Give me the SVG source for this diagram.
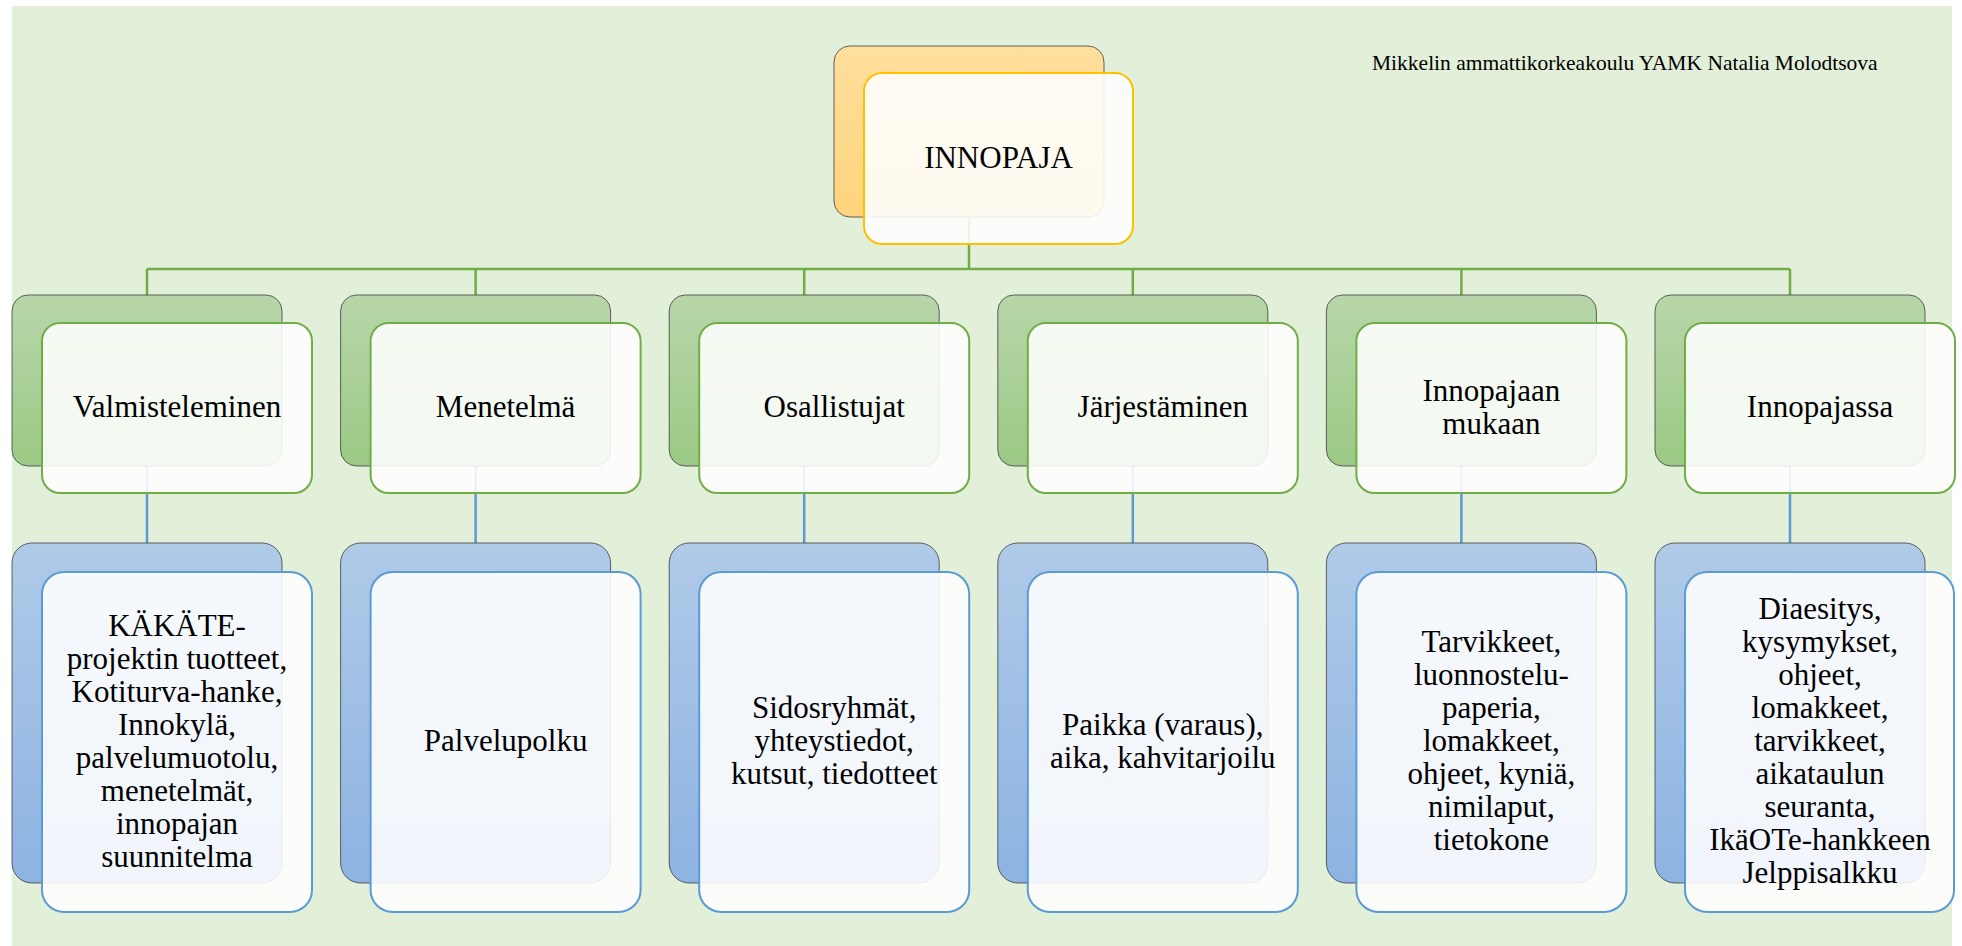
<svg xmlns="http://www.w3.org/2000/svg" width="1962" height="946" viewBox="0 0 1962 946" font-family="'Liberation Serif', 'DejaVu Serif', serif">
  <defs>
    <linearGradient id="gOrange" x1="0" y1="0" x2="0" y2="1">
      <stop offset="0" stop-color="#FFDF9E"/>
      <stop offset="1" stop-color="#FFD47C"/>
    </linearGradient>
    <linearGradient id="gGreen" x1="0" y1="0" x2="0" y2="1">
      <stop offset="0" stop-color="#B7D6A9"/>
      <stop offset="1" stop-color="#9CC985"/>
    </linearGradient>
    <linearGradient id="gBlue" x1="0" y1="0" x2="0" y2="1">
      <stop offset="0" stop-color="#B0CAE8"/>
      <stop offset="1" stop-color="#8DB3E2"/>
    </linearGradient>
  </defs>
  <style>
    .bg { fill: #E2EFD9; }
    .back { stroke: #3f3f3f; stroke-opacity: 0.8; stroke-width: 1; }
    .front { fill: #FFFFFF; fill-opacity: 0.88; stroke-width: 2; }
    .fo { stroke: #FFC000; }
    .fg { stroke: #70AD47; }
    .fb { stroke: #5B9BD5; }
    .lg { stroke: #70AD47; stroke-width: 2.5; fill: none; }
    .lb { stroke: #5B9BD5; stroke-width: 2.5; fill: none; }
    .t { font-size: 31px; text-anchor: middle; fill: #000; }
    .credit { font-size: 21.5px; fill: #000; }
  </style>

  <rect class="bg" x="12" y="6" width="1940" height="940"/>

  <text class="credit" x="1372" y="70" font-family="Liberation Serif">Mikkelin ammattikorkeakoulu YAMK Natalia Molodtsova</text>

  <!-- connectors -->
  <g id="connectors">
    <line class="lg" x1="969" y1="217" x2="969" y2="269"/>
    <line class="lg" x1="147" y1="269" x2="1790" y2="269"/>
    <line class="lg" x1="147" y1="269" x2="147" y2="295"/>
    <line class="lg" x1="475.6" y1="269" x2="475.6" y2="295"/>
    <line class="lg" x1="804.2" y1="269" x2="804.2" y2="295"/>
    <line class="lg" x1="1132.8" y1="269" x2="1132.8" y2="295"/>
    <line class="lg" x1="1461.4" y1="269" x2="1461.4" y2="295"/>
    <line class="lg" x1="1790" y1="269" x2="1790" y2="295"/>
    <line class="lb" x1="147" y1="466" x2="147" y2="543"/>
    <line class="lb" x1="475.6" y1="466" x2="475.6" y2="543"/>
    <line class="lb" x1="804.2" y1="466" x2="804.2" y2="543"/>
    <line class="lb" x1="1132.8" y1="466" x2="1132.8" y2="543"/>
    <line class="lb" x1="1461.4" y1="466" x2="1461.4" y2="543"/>
    <line class="lb" x1="1790" y1="466" x2="1790" y2="543"/>
  </g>

  <g font-family="Liberation Serif">
  <!-- root -->
  <g id="innopaja">
    <rect class="back" x="834" y="46" width="270" height="171" rx="16" fill="url(#gOrange)"/>
    <rect class="front fo" x="864" y="73" width="269" height="171" rx="18"/>
    <text class="t" x="998.5" y="168">INNOPAJA</text>
  </g>

  <!-- second level -->
  <g id="valmisteleminen">
    <rect class="back" x="12" y="295" width="270" height="171" rx="16" fill="url(#gGreen)"/>
    <rect class="front fg" x="42" y="323" width="270" height="170" rx="18"/>
    <text class="t" x="177" y="417">Valmisteleminen</text>
  </g>
  <g id="menetelma">
    <rect class="back" x="340.6" y="295" width="270" height="171" rx="16" fill="url(#gGreen)"/>
    <rect class="front fg" x="370.6" y="323" width="270" height="170" rx="18"/>
    <text class="t" x="505.6" y="417">Menetelmä</text>
  </g>
  <g id="osallistujat">
    <rect class="back" x="669.2" y="295" width="270" height="171" rx="16" fill="url(#gGreen)"/>
    <rect class="front fg" x="699.2" y="323" width="270" height="170" rx="18"/>
    <text class="t" x="834.2" y="417">Osallistujat</text>
  </g>
  <g id="jarjestaminen">
    <rect class="back" x="997.8" y="295" width="270" height="171" rx="16" fill="url(#gGreen)"/>
    <rect class="front fg" x="1027.8" y="323" width="270" height="170" rx="18"/>
    <text class="t" x="1162.8" y="417">Järjestäminen</text>
  </g>
  <g id="innopajaan-mukaan">
    <rect class="back" x="1326.4" y="295" width="270" height="171" rx="16" fill="url(#gGreen)"/>
    <rect class="front fg" x="1356.4" y="323" width="270" height="170" rx="18"/>
    <text class="t" x="1491.4" y="401">Innopajaan</text>
    <text class="t" x="1491.4" y="434">mukaan</text>
  </g>
  <g id="innopajassa">
    <rect class="back" x="1655" y="295" width="270" height="171" rx="16" fill="url(#gGreen)"/>
    <rect class="front fg" x="1685" y="323" width="270" height="170" rx="18"/>
    <text class="t" x="1820" y="417">Innopajassa</text>
  </g>

  <!-- third level -->
  <g id="valmisteleminen-sisalto">
    <rect class="back" x="12" y="543" width="270" height="340" rx="20" fill="url(#gBlue)"/>
    <rect class="front fb" x="42" y="572" width="270" height="340" rx="22"/>
    <text class="t" x="177" y="635.5">KÄKÄTE-</text>
    <text class="t" x="177" y="668.5">projektin tuotteet,</text>
    <text class="t" x="177" y="701.5">Kotiturva-hanke,</text>
    <text class="t" x="177" y="734.5">Innokylä,</text>
    <text class="t" x="177" y="767.5">palvelumuotolu,</text>
    <text class="t" x="177" y="800.5">menetelmät,</text>
    <text class="t" x="177" y="833.5">innopajan</text>
    <text class="t" x="177" y="866.5">suunnitelma</text>
  </g>
  <g id="menetelma-sisalto">
    <rect class="back" x="340.6" y="543" width="270" height="340" rx="20" fill="url(#gBlue)"/>
    <rect class="front fb" x="370.6" y="572" width="270" height="340" rx="22"/>
    <text class="t" x="505.6" y="751">Palvelupolku</text>
  </g>
  <g id="osallistujat-sisalto">
    <rect class="back" x="669.2" y="543" width="270" height="340" rx="20" fill="url(#gBlue)"/>
    <rect class="front fb" x="699.2" y="572" width="270" height="340" rx="22"/>
    <text class="t" x="834.2" y="718">Sidosryhmät,</text>
    <text class="t" x="834.2" y="751">yhteystiedot,</text>
    <text class="t" x="834.2" y="784">kutsut, tiedotteet</text>
  </g>
  <g id="jarjestaminen-sisalto">
    <rect class="back" x="997.8" y="543" width="270" height="340" rx="20" fill="url(#gBlue)"/>
    <rect class="front fb" x="1027.8" y="572" width="270" height="340" rx="22"/>
    <text class="t" x="1162.8" y="734.5">Paikka (varaus),</text>
    <text class="t" x="1162.8" y="767.5">aika, kahvitarjoilu</text>
  </g>
  <g id="innopajaan-mukaan-sisalto">
    <rect class="back" x="1326.4" y="543" width="270" height="340" rx="20" fill="url(#gBlue)"/>
    <rect class="front fb" x="1356.4" y="572" width="270" height="340" rx="22"/>
    <text class="t" x="1491.4" y="652">Tarvikkeet,</text>
    <text class="t" x="1491.4" y="685">luonnostelu-</text>
    <text class="t" x="1491.4" y="718">paperia,</text>
    <text class="t" x="1491.4" y="751">lomakkeet,</text>
    <text class="t" x="1491.4" y="784">ohjeet, kyniä,</text>
    <text class="t" x="1491.4" y="817">nimilaput,</text>
    <text class="t" x="1491.4" y="850">tietokone</text>
  </g>
  <g id="innopajassa-sisalto">
    <rect class="back" x="1655" y="543" width="270" height="340" rx="20" fill="url(#gBlue)"/>
    <rect class="front fb" x="1685" y="572" width="269" height="340" rx="22"/>
    <text class="t" x="1820" y="619">Diaesitys,</text>
    <text class="t" x="1820" y="652">kysymykset,</text>
    <text class="t" x="1820" y="685">ohjeet,</text>
    <text class="t" x="1820" y="718">lomakkeet,</text>
    <text class="t" x="1820" y="751">tarvikkeet,</text>
    <text class="t" x="1820" y="784">aikataulun</text>
    <text class="t" x="1820" y="817">seuranta,</text>
    <text class="t" x="1820" y="850">IkäOTe-hankkeen</text>
    <text class="t" x="1820" y="883">Jelppisalkku</text>
  </g>
  </g>
</svg>
